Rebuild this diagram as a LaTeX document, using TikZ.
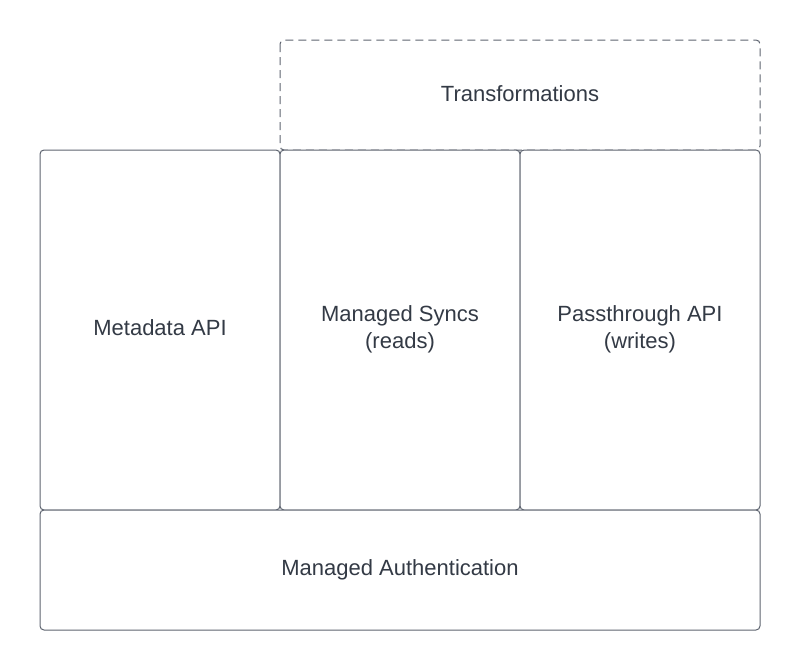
\documentclass[tikz,border=0pt]{standalone}
\usepackage{fontspec}
\setmainfont{Liberation Sans}
\definecolor{edge}{HTML}{5E6470}
\definecolor{txt}{HTML}{333A45}
\begin{document}
\begin{tikzpicture}[x=1pt,y=-1pt,
  blk/.style={draw=edge,line width=1pt,rounded corners=4pt,fill=white},
  lbl/.style={text=txt,font=\fontsize{22}{27}\selectfont,align=center}]
\useasboundingbox (0,0) rectangle (800,670);
\draw[blk,dashed,dash pattern=on 8pt off 5pt] (280,40) rectangle (760,150);
\draw[blk] (40,150) rectangle (280,510);
\draw[blk] (280,150) rectangle (520,510);
\draw[blk] (520,150) rectangle (760,510);
\draw[blk] (40,510) rectangle (760,630);
\node[lbl] (tr) at (520,94) {Transformations};
\node[lbl] (md) at (160,328) {Metadata API};
\node[lbl] (ms) at (400,329) {Managed Syncs\\(reads)};
\node[lbl] (pt) at (640,329) {Passthrough API\\(writes)};
\node[lbl] (ma) at (400,570) {Managed Authentication};
\end{tikzpicture}
\end{document}
